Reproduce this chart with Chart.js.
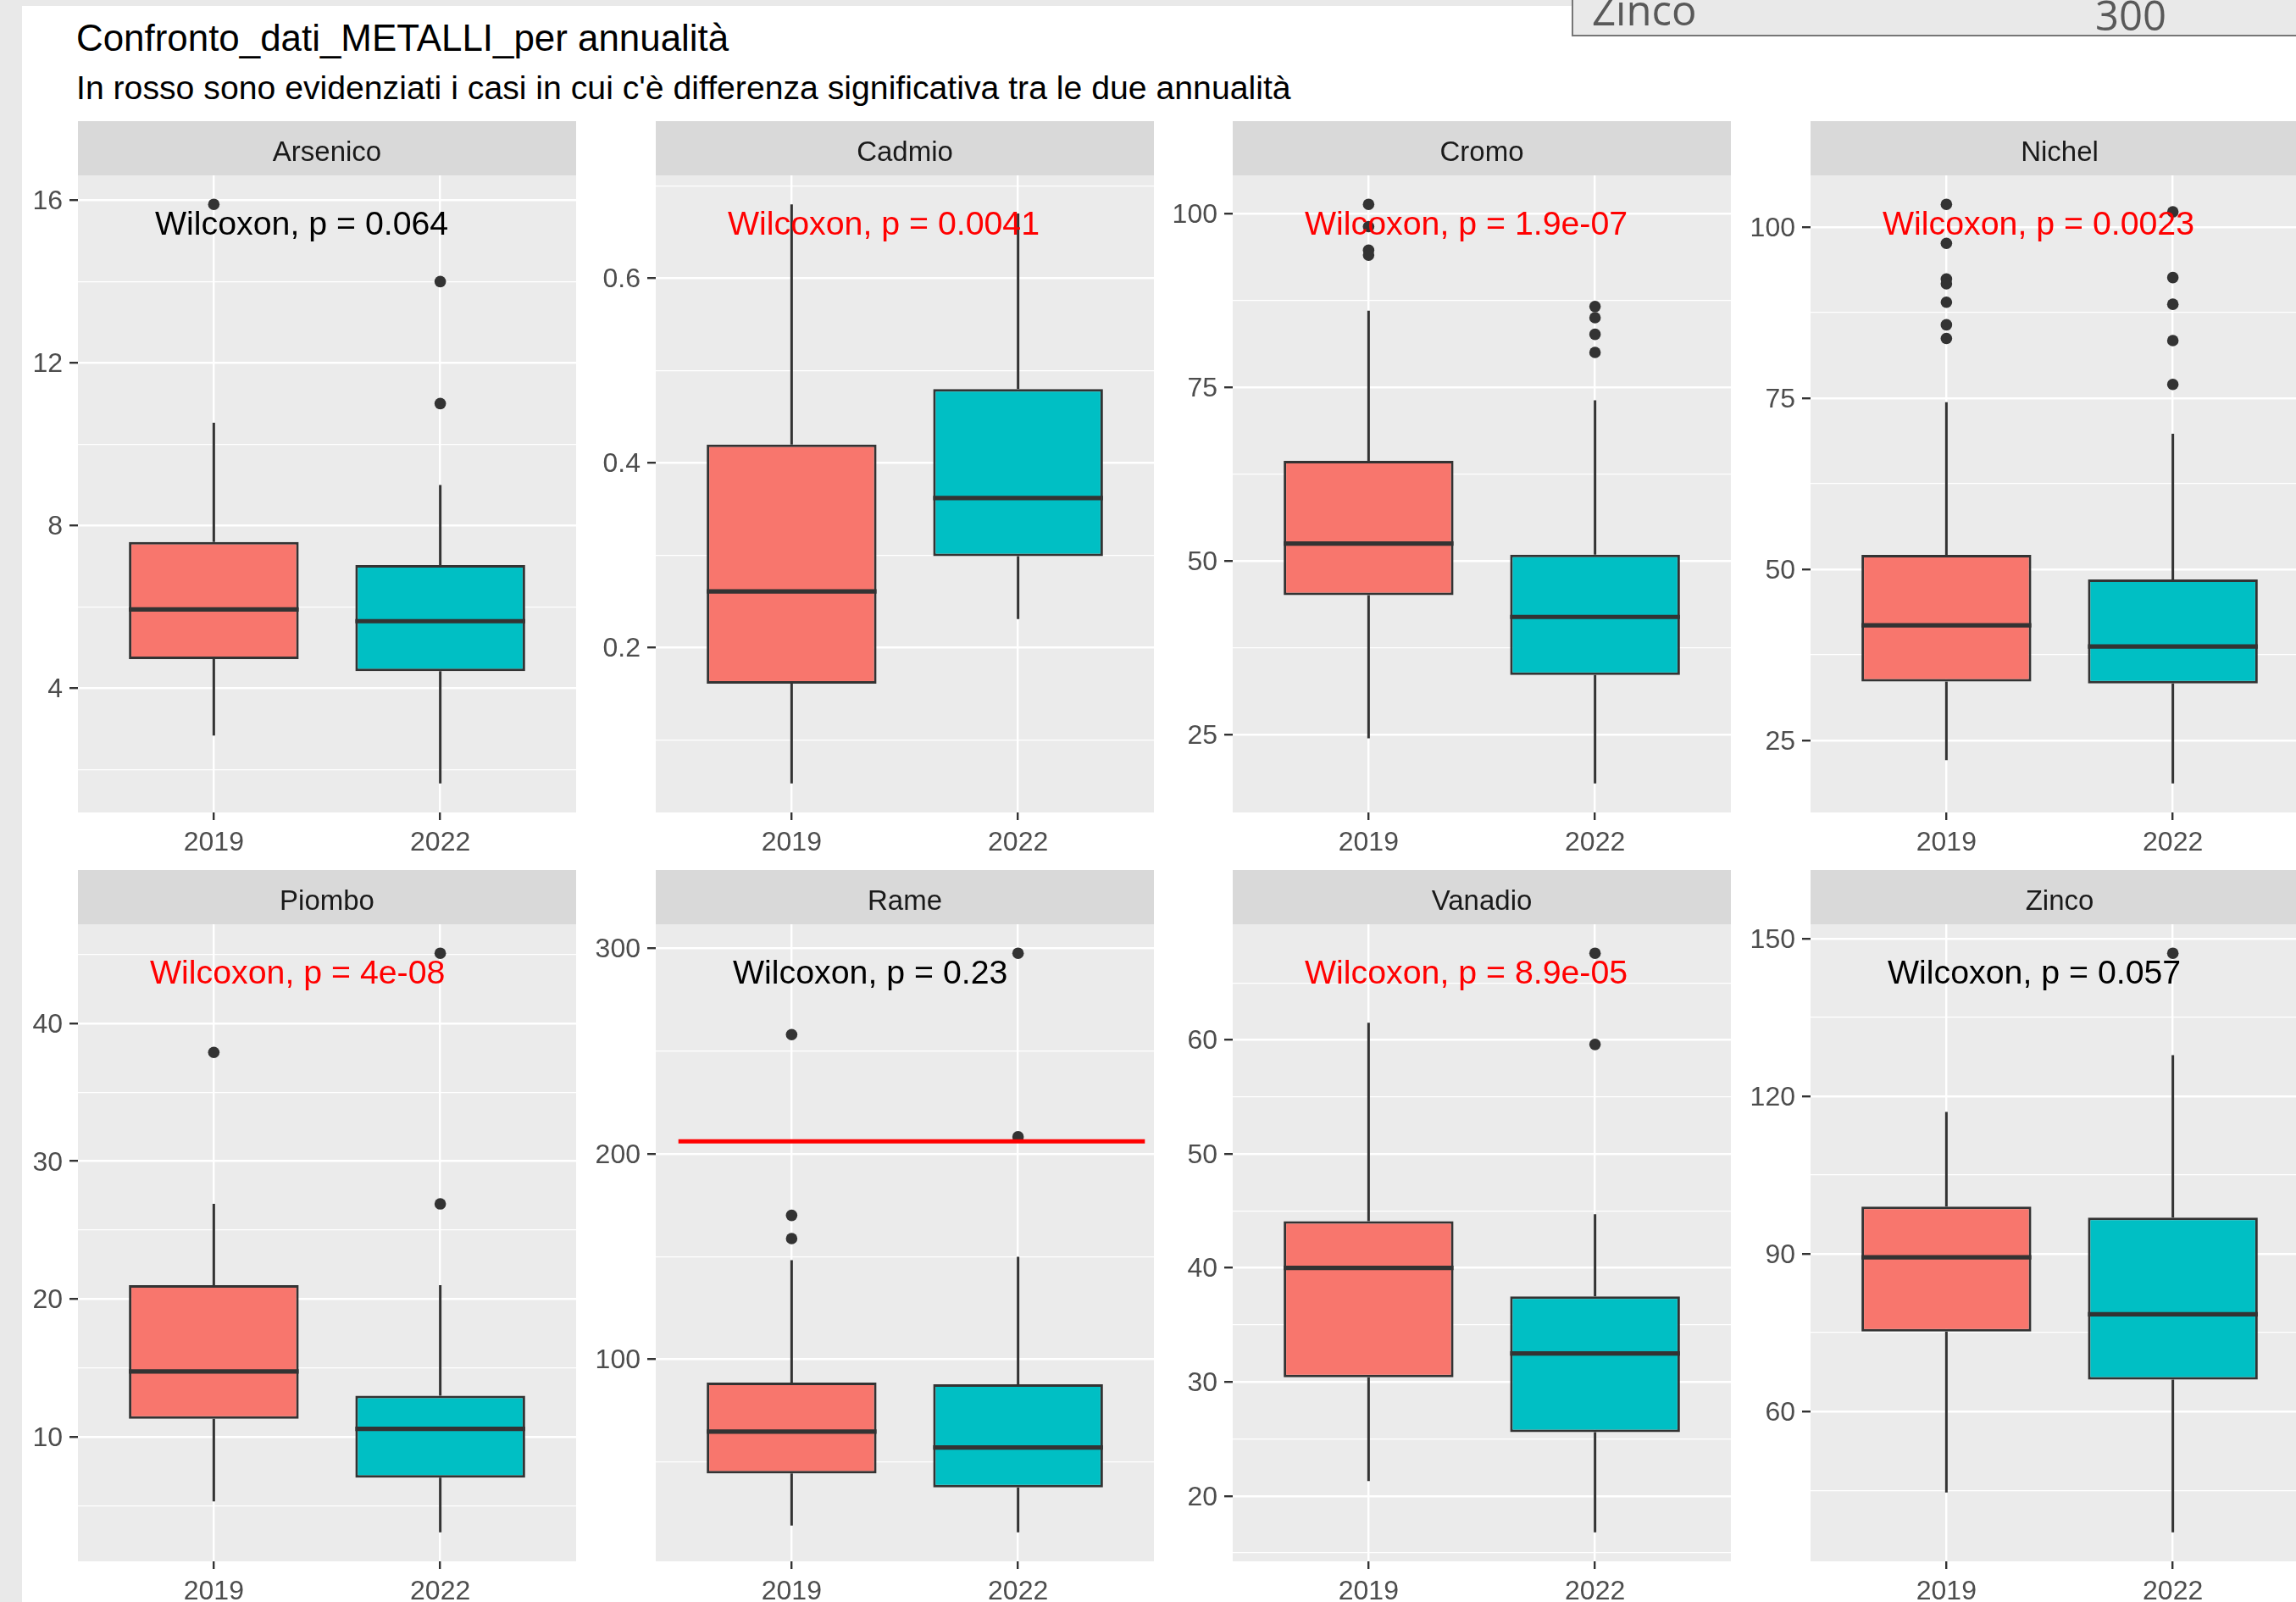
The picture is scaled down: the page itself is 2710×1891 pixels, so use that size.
<!DOCTYPE html>
<html lang="it">
<head>
<meta charset="utf-8">
<title>Confronto_dati_METALLI_per annualità</title>
<script src="https://cdn.jsdelivr.net/npm/chart.js@4.4.1/dist/chart.umd.min.js"></script>
<style>
  html, body { margin: 0; padding: 0; }
  body {
    width: 2710px; height: 1891px; overflow: hidden; position: relative;
    background: #ffffff; font-family: "Liberation Sans", Arial, sans-serif;
  }
  .band { position: absolute; background: #e9e9e9; }
  #cell {
    position: absolute; left: 1855px; top: -10px; width: 900px; height: 51px;
    background: #e9e9e9; border-left: 2px solid #767676; border-bottom: 2px solid #767676;
    overflow: hidden;
  }
  .cellText {
    position: absolute; font-family: "Open Sans", sans-serif; font-size: 49px;
    line-height: 49px; color: #595959; white-space: nowrap;
  }
  .heading { position: absolute; left: 90px; line-height: 1; color: #000; white-space: nowrap; }
  canvas { position: absolute; }
</style>
</head>
<body>
<div class="band" style="left:0;top:0;width:1856px;height:7px;"></div>
<div class="band" style="left:0;top:0;width:26px;height:1891px;"></div>
<div id="cell">
  <span class="cellText" style="left:22px;top:-3.5px;">Zinco</span>
  <span class="cellText" style="left:616px;top:2.5px;">300</span>
</div>
<div class="heading" style="top:23px;font-size:43.9px;">Confronto_dati_METALLI_per annualità</div>
<div class="heading" style="top:84px;font-size:39.2px;">In rosso sono evidenziati i casi in cui c'è differenza significativa tra le due annualità</div>

<script>
// ---- data ---------------------------------------------------------------
const metals = ['Arsenico', 'Cadmio', 'Cromo', 'Nichel', 'Piombo', 'Rame', 'Vanadio', 'Zinco'];
const years = ['2019', '2022'];

// box statistics, one entry per metal
const whiskerLow2019  = [2.84, 0.053, 24.5, 22.1, 5.3, 19.1, 21.3, 44.6];
const q1_2019         = [4.72, 0.161, 45.1, 33.6, 11.3, 44.5, 30.4, 75.2];
const median2019      = [5.94, 0.261, 52.5, 41.8, 14.73, 64.8, 40.0, 89.35];
const q3_2019         = [7.6, 0.420, 64.4, 52.1, 21.0, 88.7, 44.1, 99.0];
const whiskerHigh2019 = [10.53, 0.680, 86.0, 74.4, 26.9, 148.2, 61.5, 117.0];

const whiskerLow2022  = [1.66, 0.231, 18.0, 18.7, 3.05, 15.8, 16.8, 37.0];
const q1_2022         = [4.42, 0.299, 33.6, 33.3, 7.02, 37.7, 25.6, 66.05];
const median2022      = [5.65, 0.362, 41.95, 38.7, 10.56, 57.1, 32.5, 78.5];
const q3_2022         = [7.03, 0.480, 50.9, 48.5, 12.98, 87.8, 37.5, 96.9];
const whiskerHigh2022 = [9.0, 0.670, 73.1, 69.8, 21.0, 149.9, 44.7, 127.8];

const outliers2019 = [
  [15.9], [], [101.3, 98.1, 94.7, 94.0], [103.3, 97.6, 92.4, 91.7, 89.0, 85.7, 83.7],
  [37.9], [257.9, 170.0, 158.7], [], []
];
const outliers2022 = [
  [14.0, 11.0], [], [86.6, 85.0, 82.6, 80.0], [102.2, 92.6, 88.7, 83.4, 77.0],
  [45.1, 26.9], [297.5, 208.2], [67.6, 59.6], [147.2]
];

// Wilcoxon test p-values (as printed)
const pValues = ['0.064', '0.0041', '1.9e-07', '0.0023', '4e-08', '0.23', '8.9e-05', '0.057'];

// y-axis ticks: labelled breaks and minor breaks
const majorTicks = [
  [4, 8, 12, 16], [0.2, 0.4, 0.6], [25, 50, 75, 100], [25, 50, 75, 100],
  [10, 20, 30, 40], [100, 200, 300], [20, 30, 40, 50, 60], [60, 90, 120, 150]
];
const minorTicks = [
  [2, 6, 10, 14], [0.1, 0.3, 0.5, 0.7], [37.5, 62.5, 87.5], [37.5, 62.5, 87.5],
  [5, 15, 25, 35, 45], [50, 150, 250], [15, 25, 35, 45, 55, 65], [45, 75, 105, 135]
];

// reference limit drawn on the Rame panel
const rameLimit = 206;

// ---- look ---------------------------------------------------------------
const FONT = '"Liberation Sans", Arial, sans-serif';
const FILLS = ['#F8766D', '#00BFC4'];
const INK = '#333333';
const COL_LEFT = [92, 774, 1455, 2137];
const ROW_TOP = [207, 1091];
const PANEL_W = 588, PANEL_H = 752, STRIP_H = 64, AX_W = 92, XAX_H = 70;
const BOX_HALF = 0.375;
const LINE_W = 3;

Chart.defaults.font.family = FONT;

const panelBackground = {
  id: 'panelBackground',
  beforeDraw(chart) {
    const { ctx, chartArea: a } = chart;
    ctx.save();
    ctx.fillStyle = '#d9d9d9';
    ctx.fillRect(a.left, a.top - STRIP_H, a.right - a.left, STRIP_H);
    ctx.fillStyle = '#ebebeb';
    ctx.fillRect(a.left, a.top, a.right - a.left, a.bottom - a.top);
    ctx.restore();
  }
};

// test annotation printed near the top-left of each panel
const testLabel = {
  id: 'testLabel',
  afterDatasetsDraw(chart, args, opts) {
    const { ctx, chartArea: a } = chart;
    ctx.save();
    ctx.font = '39.3px ' + FONT;
    ctx.fillStyle = opts.significant ? '#ff0000' : '#000000';
    ctx.textAlign = 'left';
    ctx.textBaseline = 'alphabetic';
    ctx.fillText(opts.text, a.left + (opts.significant ? 85 : 91), a.top + 70);
    ctx.restore();
  }
};

metals.forEach((name, k) => {
  const col = k % 4, row = Math.floor(k / 4);
  const w = AX_W + PANEL_W, h = STRIP_H + PANEL_H + XAX_H;
  const canvas = document.createElement('canvas');
  canvas.width = w; canvas.height = h;
  canvas.style.left = (COL_LEFT[col] - AX_W) + 'px';
  canvas.style.top = (ROW_TOP[row] - STRIP_H) + 'px';
  canvas.style.width = w + 'px';
  canvas.style.height = h + 'px';
  document.body.appendChild(canvas);

  const stats = [
    { lo: whiskerLow2019[k], q1: q1_2019[k], med: median2019[k], q3: q3_2019[k], hi: whiskerHigh2019[k], out: outliers2019[k] },
    { lo: whiskerLow2022[k], q1: q1_2022[k], med: median2022[k], q3: q3_2022[k], hi: whiskerHigh2022[k], out: outliers2022[k] }
  ];

  // free y range per panel, expanded by 5% on each side
  const all = stats.flatMap(s => [s.lo, s.hi, ...s.out]);
  const dMin = Math.min(...all), dMax = Math.max(...all);
  const pad = (dMax - dMin) * 0.05;
  const yMin = dMin - pad, yMax = dMax + pad;

  const majors = majorTicks[k];
  const yTicks = [...majors, ...minorTicks[k]]
    .filter(v => v >= yMin && v <= yMax)
    .sort((a, b) => a - b);
  const isMajor = v => majors.includes(v);

  const whiskerPts = [], medianPts = [], outlierPts = [];
  stats.forEach((s, i) => {
    const x = i + 1;
    whiskerPts.push({ x, y: s.hi }, { x, y: s.q3 }, { x, y: null },
                    { x, y: s.q1 }, { x, y: s.lo }, { x, y: null });
    medianPts.push({ x: x - BOX_HALF, y: s.med }, { x: x + BOX_HALF, y: s.med }, { x, y: null });
    s.out.forEach(v => outlierPts.push({ x, y: v }));
  });

  const datasets = [
    {
      type: 'line', label: 'whiskers', data: whiskerPts, order: 4,
      borderColor: INK, borderWidth: LINE_W, pointRadius: 0, spanGaps: false, tension: 0
    },
    {
      type: 'bar', label: 'box', order: 3,
      data: stats.map((s, i) => ({ x: i + 1, y: [s.q1, s.q3] })),
      backgroundColor: FILLS, borderColor: INK, borderWidth: LINE_W, borderSkipped: false,
      categoryPercentage: 1, barPercentage: 0.75, grouped: false
    },
    {
      type: 'line', label: 'median', data: medianPts, order: 2,
      borderColor: INK, borderWidth: 5.2, pointRadius: 0, spanGaps: false, tension: 0,
      borderCapStyle: 'butt'
    },
    {
      type: 'line', label: 'outliers', data: outlierPts, order: 1, showLine: false,
      pointRadius: 6.8, pointBackgroundColor: INK, pointBorderWidth: 0, pointBorderColor: INK
    }
  ];
  if (name === 'Rame') {
    datasets.push({
      type: 'line', label: 'limite', order: 0,
      data: [{ x: 0.5, y: rameLimit }, { x: 2.56, y: rameLimit }],
      borderColor: '#ff0000', borderWidth: 4.8, pointRadius: 0
    });
  }

  const p = pValues[k];
  new Chart(canvas, {
    type: 'bar',
    data: { datasets },
    plugins: [panelBackground, testLabel],
    options: {
      responsive: false, animation: false, devicePixelRatio: 1, events: [],
      layout: { padding: 0, autoPadding: false },
      plugins: {
        legend: { display: false },
        tooltip: { enabled: false },
        title: {
          display: true, text: name, fullSize: false, color: '#1a1a1a',
          font: { family: FONT, size: 33, weight: 'normal', lineHeight: 1.2 },
          padding: { top: 18, bottom: 6.4 }
        },
        testLabel: {
          text: 'Wilcoxon, p = ' + p,
          significant: parseFloat(p) < 0.05
        }
      },
      scales: {
        x: {
          type: 'linear', min: 0.4, max: 2.6, offset: false, bounds: 'data',
          afterBuildTicks: s => { s.ticks = years.map((_, i) => ({ value: i + 1 })); },
          afterFit: s => { s.height = XAX_H; },
          border: { display: false },
          grid: {
            color: '#ffffff', lineWidth: 2.4, offset: false,
            tickColor: INK, tickWidth: 2.4, tickLength: 9
          },
          ticks: {
            callback: (v, i) => years[i], color: '#4d4d4d',
            font: { family: FONT, size: 32 }, padding: 7.5, autoSkip: false, maxRotation: 0
          }
        },
        y: {
          type: 'linear', min: yMin, max: yMax, beginAtZero: false, bounds: 'data',
          afterBuildTicks: s => { s.ticks = yTicks.map(v => ({ value: v })); },
          afterFit: s => { s.width = AX_W; },
          border: { display: false },
          grid: {
            color: '#ffffff',
            lineWidth: c => (c.tick && isMajor(c.tick.value)) ? 2.4 : 1.2,
            tickColor: c => (c.tick && isMajor(c.tick.value)) ? INK : 'rgba(0,0,0,0)',
            tickWidth: 2.4, tickLength: 10
          },
          ticks: {
            callback: v => isMajor(v) ? String(v) : '', color: '#4d4d4d',
            font: { family: FONT, size: 32 }, padding: 8, autoSkip: false, labelOffset: 2
          }
        }
      }
    }
  });
});
</script>
</body>
</html>
